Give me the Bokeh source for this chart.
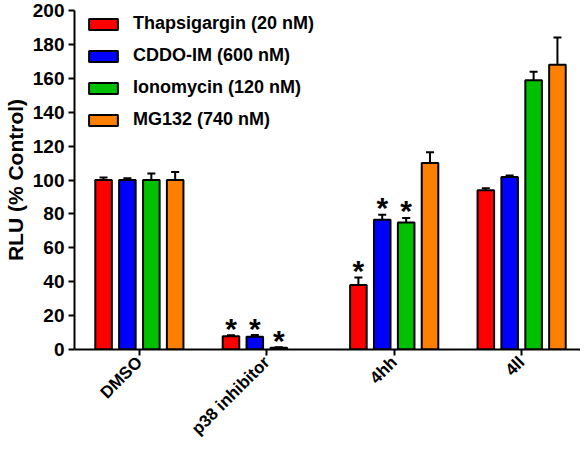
import math
from bokeh.plotting import figure
from bokeh.models import (ColumnDataSource, Range1d, Whisker, Legend, LegendItem,
                          FixedTicker)
from bokeh.core.properties import value
from bokeh.embed import file_html
from bokeh.resources import INLINE

NAN = float("nan")

categories = ["DMSO", "p38 inhibitor", "4hh", "4ll"]
series_names = ["Thapsigargin (20 nM)", "CDDO-IM (600 nM)", "Ionomycin (120 nM)", "MG132 (740 nM)"]
thapsigargin = [100, 7.8, 38, 94]
thapsigargin_err = [1.5, 0.6, 4.5, 1.2]
cddo_im = [100, 7.5, 76.5, 101.8]
cddo_im_err = [1.0, 1.0, 3.0, 0.9]
ionomycin = [100, 1.0, 75, 158.8]
ionomycin_err = [3.8, 0.3, 2.6, 5.0]
mg132 = [100, NAN, 110, 168]
mg132_err = [4.7, NAN, 6.3, 16.0]
significant = [
    [False, True, True, False],
    [False, True, True, False],
    [False, True, True, False],
    [False, False, False, False],
]
y_ticks = [0, 20, 40, 60, 80, 100, 120, 140, 160, 180, 200]

colors = ["#FF0000", "#0000FF", "#00C000", "#FF8000"]
offsets = [-0.281, -0.094, 0.094, 0.281]
values = [thapsigargin, cddo_im, ionomycin, mg132]
errors = [thapsigargin_err, cddo_im_err, ionomycin_err, mg132_err]
cat_pos = list(range(len(categories)))

FONT = "Liberation Sans"

p = figure(x_range=Range1d(-0.509, 3.462), y_range=Range1d(0, 200),
           width=580, height=448,
           output_backend="svg", toolbar_location=None,
           min_border_left=73, min_border_right=0, min_border_top=10, min_border_bottom=99)
p.outline_line_color = None
p.grid.visible = False
p.background_fill_color = "white"

items = []
for name, vals, errs, col, off, sig in zip(series_names, values, errors, colors, offsets, significant):
    upper = [v + e for v, e in zip(vals, errs)]
    xs = [c + off for c in cat_pos]
    src = ColumnDataSource(dict(x=xs, top=vals, upper=upper))
    r = p.vbar(x="x", top="top", width=0.13, source=src,
               fill_color=col, line_color="black", line_width=2)
    w = Whisker(base="x", lower="top", upper="upper", source=src,
                line_color="black", line_width=2, lower_head=None)
    w.upper_head.size = 8
    w.upper_head.line_width = 2
    w.upper_head.line_color = "black"
    p.add_layout(w)
    star_x = [x for x, s in zip(xs, sig) if s]
    star_y = [u for u, s in zip(upper, sig) if s]
    if star_x:
        ssrc = ColumnDataSource(dict(x=star_x, y=star_y, t=["*"] * len(star_x)))
        p.text(x="x", y="y", text="t", source=ssrc,
               text_align="center", text_baseline="middle", y_offset=-7,
               text_font=value(FONT), text_font_size="30px", text_font_style="bold",
               text_color="black")
    items.append(LegendItem(label=name, renderers=[r]))

legend = Legend(items=items, location=(11, 219), padding=0, margin=0, spacing=11,
                glyph_width=36, glyph_height=14, label_height=21, label_standoff=12,
                label_text_font=FONT, label_text_font_size="18px", label_text_font_style="bold",
                label_text_color="black", border_line_color=None, background_fill_alpha=0)
p.add_layout(legend)

for ax in (p.xaxis, p.yaxis):
    ax.axis_line_width = 2
    ax.axis_line_color = "black"
    ax.major_tick_line_width = 2
    ax.major_tick_line_color = "black"
    ax.major_tick_out = 6
    ax.major_tick_in = 0
    ax.minor_tick_line_color = None
    ax.major_label_text_font = FONT
    ax.major_label_text_font_style = "bold"
    ax.major_label_text_color = "black"

p.yaxis.major_label_text_font_size = "19px"
p.xaxis.major_label_text_font_size = "17px"

p.yaxis.ticker = FixedTicker(ticks=y_ticks)
p.yaxis.major_label_standoff = 4
p.yaxis.axis_label = "RLU (% Control)"
p.yaxis.axis_label_text_font = FONT
p.yaxis.axis_label_text_font_size = "21px"
p.yaxis.axis_label_text_font_style = "bold"
p.yaxis.axis_label_text_color = "black"
p.yaxis.axis_label_standoff = 3

p.xaxis.ticker = FixedTicker(ticks=cat_pos)
p.xaxis.major_label_overrides = {i: c for i, c in zip(cat_pos, categories)}
p.xaxis.major_label_orientation = math.pi / 4
p.xaxis.major_label_standoff = 4

open("out.html", "w").write(file_html(p, INLINE))
